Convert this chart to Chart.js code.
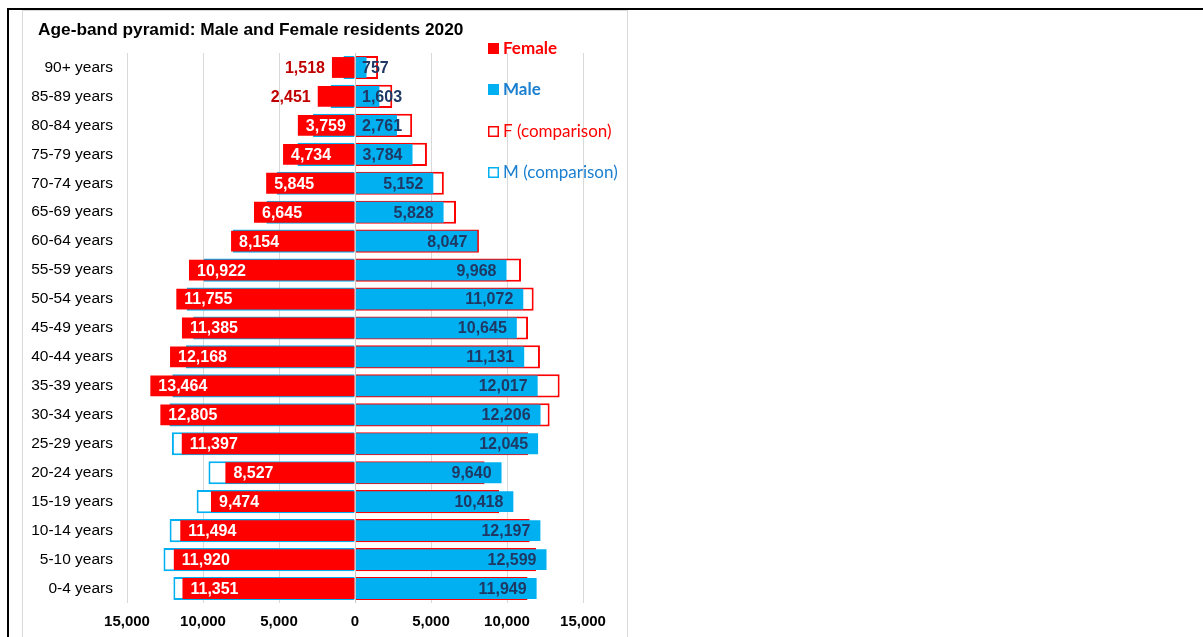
<!DOCTYPE html>
<html>
<head>
<meta charset="utf-8">
<script src="https://cdn.jsdelivr.net/npm/chart.js@4"></script>
<style>
  body { margin: 0; background: #fff; }
  #frame { position: absolute; left: 7px; top: 8px; width: 1300px; height: 700px;
           border-top: 2px solid #000; border-left: 2px solid #000; }
  #box { position: absolute; left: 22px; top: 10px; width: 604px; height: 660px;
         border: 1px solid #d9d9d9; background: #fff; }
  #box canvas { display: block; }
</style>
</head>
<body>
<div id="frame"></div>
<div id="box"><canvas id="chart" width="604" height="626"></canvas></div>
<script>
// age bands, top of the pyramid first
const ageBands = ['90+ years', '85-89 years', '80-84 years', '75-79 years', '70-74 years',
  '65-69 years', '60-64 years', '55-59 years', '50-54 years', '45-49 years', '40-44 years',
  '35-39 years', '30-34 years', '25-29 years', '20-24 years', '15-19 years', '10-14 years',
  '5-10 years', '0-4 years'];

const female = [1518, 2451, 3759, 4734, 5845, 6645, 8154, 10922, 11755, 11385, 12168,
  13464, 12805, 11397, 8527, 9474, 11494, 11920, 11351];

const male = [757, 1603, 2761, 3784, 5152, 5828, 8047, 9968, 11072, 10645, 11131,
  12017, 12206, 12045, 9640, 10418, 12197, 12599, 11949];

const xTickValues = [-15000, -10000, -5000, 0, 5000, 10000, 15000];

const chartTitle = 'Age-band pyramid: Male and Female residents 2020';

const RED = '#ff0000';
const BLUE = '#00b0f0';
const ARIAL = 'Arial, "Liberation Sans", sans-serif';

function fmt(v) {
  return Math.abs(v).toLocaleString('en-US');
}

// value labels on the filled bars + zero line
const barLabels = {
  id: 'barLabels',
  afterDatasetsDraw(chart) {
    const ctx = chart.ctx;
    const zero = chart.scales.x.getPixelForValue(0);
    ctx.save();
    ctx.strokeStyle = '#c8c8c8';
    ctx.lineWidth = 1;
    ctx.beginPath();
    ctx.moveTo(Math.round(zero) + 0.5, chart.chartArea.top);
    ctx.lineTo(Math.round(zero) + 0.5, chart.chartArea.bottom);
    ctx.stroke();

    ctx.font = 'bold 16px ' + ARIAL;
    ctx.textBaseline = 'middle';
    chart.getDatasetMeta(0).data.forEach((bar, i) => {
      const txt = fmt(female[i]);
      const w = ctx.measureText(txt).width;
      const len = Math.abs(bar.base - bar.x);
      if (len < w + 14) {
        ctx.fillStyle = '#c00000';
        ctx.textAlign = 'right';
        ctx.fillText(txt, bar.x - 7, bar.y + 1);
      } else {
        ctx.fillStyle = '#fff';
        ctx.textAlign = 'left';
        ctx.fillText(txt, bar.x + 8, bar.y + 1);
      }
    });

    chart.getDatasetMeta(1).data.forEach((bar, i) => {
      const txt = fmt(male[i]);
      const w = ctx.measureText(txt).width;
      const start = Math.max(bar.x - 10 - w, zero + 7);
      ctx.fillStyle = '#1f3864';
      ctx.textAlign = 'left';
      ctx.fillText(txt, start, bar.y + 1);
    });
    ctx.restore();
  }
};

// title and Excel-like legend overlaid on the right
const sideLegend = {
  id: 'sideLegend',
  afterDraw(chart) {
    const ctx = chart.ctx;
    ctx.save();
    ctx.textBaseline = 'middle';
    ctx.textAlign = 'left';
    ctx.fillStyle = '#000';
    ctx.font = 'bold 17.3px ' + ARIAL;
    ctx.fillText(chartTitle, 15, 19);

    const items = [
      { text: 'Female', fill: RED, stroke: null, color: '#ff0000', bold: true, y: 37 },
      { text: 'Male', fill: BLUE, stroke: null, color: '#1a7fd0', bold: true, y: 78 },
      { text: 'F (comparison)', fill: '#fff', stroke: RED, color: '#ff0000', bold: false, y: 120 },
      { text: 'M (comparison)', fill: '#fff', stroke: BLUE, color: '#1a7fd0', bold: false, y: 161 }
    ];
    items.forEach(it => {
      if (it.stroke) {
        ctx.fillStyle = '#fff';
        ctx.fillRect(465, it.y - 5, 11, 11);
        ctx.strokeStyle = it.stroke;
        ctx.lineWidth = 1.5;
        ctx.strokeRect(465.75, it.y - 4.25, 9.5, 9.5);
      } else {
        ctx.fillStyle = it.fill;
        ctx.fillRect(465, it.y - 5, 11, 11);
      }
      ctx.font = (it.bold ? 'bold ' : '') + '17px Lato, "Open Sans", sans-serif';
      ctx.fillStyle = it.color;
      ctx.fillText(it.text, 480, it.y + 1);
    });
    ctx.restore();
  }
};

new Chart(document.getElementById('chart'), {
  type: 'bar',
  data: {
    labels: ageBands,
    datasets: [
      { label: 'Female', data: female.map(v => -v), backgroundColor: RED,
        grouped: false, barPercentage: 0.72, categoryPercentage: 1 },
      { label: 'Male', data: male, backgroundColor: BLUE,
        grouped: false, barPercentage: 0.72, categoryPercentage: 1 },
      { label: 'F (comparison)', data: female, backgroundColor: '#fff', borderColor: RED,
        borderWidth: 2, borderSkipped: false, grouped: false, barPercentage: 0.8, categoryPercentage: 1 },
      { label: 'M (comparison)', data: male.map(v => -v), backgroundColor: '#fff', borderColor: BLUE,
        borderWidth: 2, borderSkipped: false, grouped: false, barPercentage: 0.8, categoryPercentage: 1 }
    ]
  },
  options: {
    indexAxis: 'y',
    responsive: false,
    animation: false,
    layout: { padding: { left: 0, right: 44, top: 42, bottom: 0 } },
    plugins: {
      legend: { display: false },
      tooltip: { enabled: false },
      title: { display: false }
    },
    scales: {
      x: {
        min: -15000,
        max: 15000,
        afterBuildTicks: scale => { scale.ticks = xTickValues.map(v => ({ value: v })); },
        afterFit: scale => { scale.height = 34; },
        grid: { color: '#d9d9d9', drawTicks: false },
        border: { display: false },
        ticks: {
          callback: v => fmt(v),
          color: '#000',
          padding: 10,
          maxRotation: 0,
          font: { family: ARIAL, size: 15, weight: 'bold' }
        }
      },
      y: {
        afterFit: scale => { scale.width = 104; },
        grid: { display: false, drawTicks: false },
        border: { display: false },
        ticks: {
          color: '#000',
          padding: 14,
          font: { family: ARIAL, size: 15.5 }
        }
      }
    }
  },
  plugins: [barLabels, sideLegend]
});
</script>
</body>
</html>
